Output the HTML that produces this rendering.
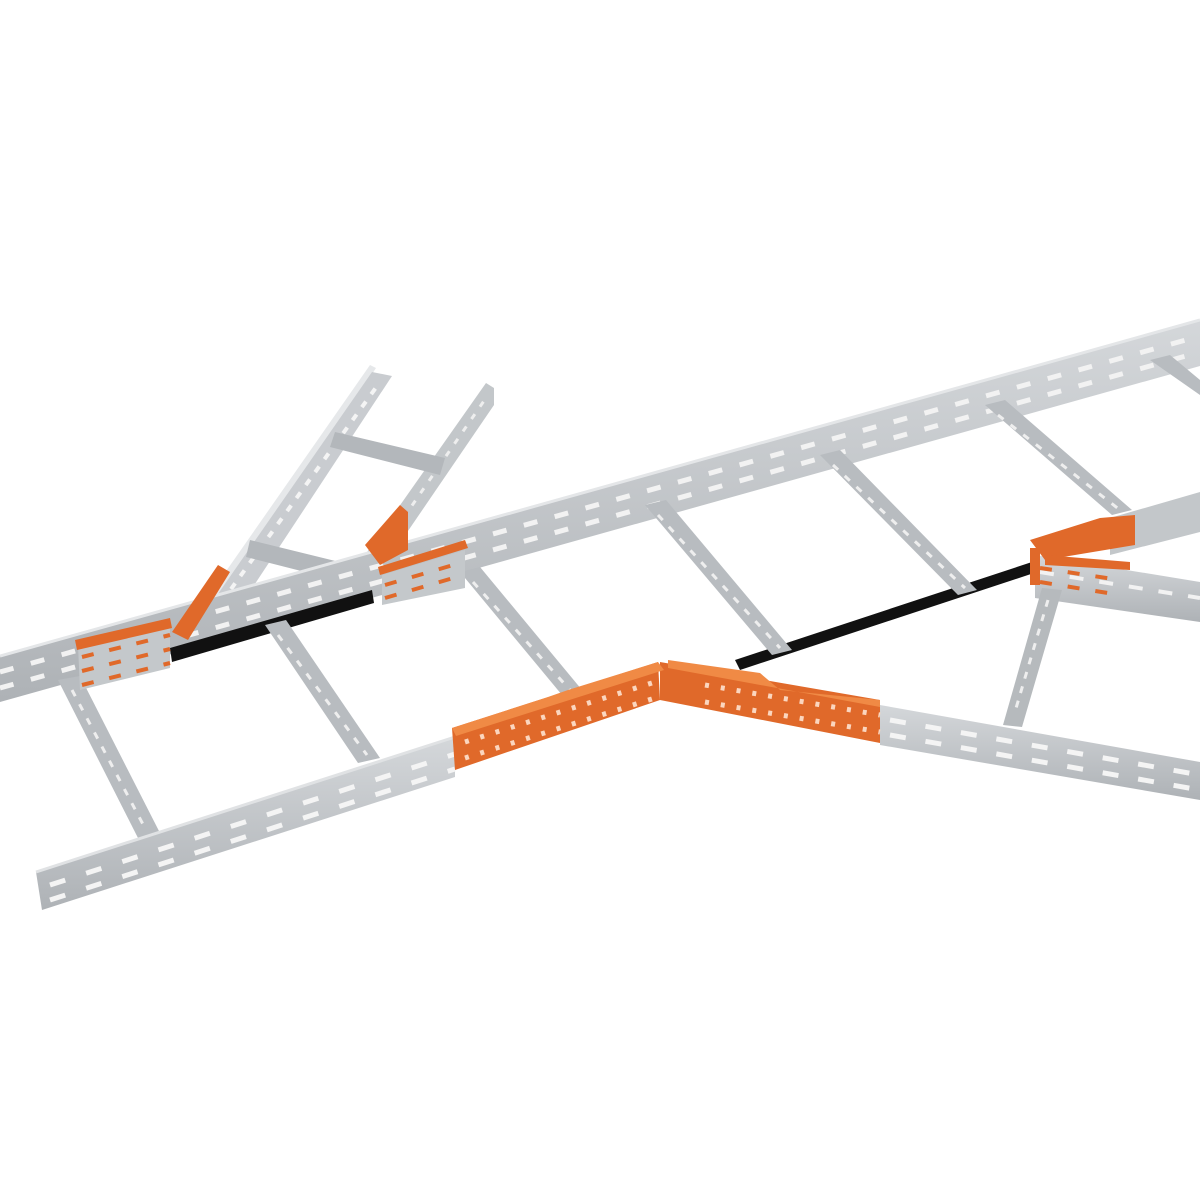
<!DOCTYPE html>
<html><head><style>html,body{margin:0;padding:0;background:#fff}svg{display:block}</style></head>
<body>
<svg width="1200" height="1200" viewBox="0 0 1200 1200" xmlns="http://www.w3.org/2000/svg">
<defs>
<linearGradient id="rg" x1="0" y1="0" x2="0" y2="1"><stop offset="0" stop-color="#d4d7da"/><stop offset="1" stop-color="#aeb2b6"/></linearGradient>
</defs>
<rect width="1200" height="1200" fill="#fff"/>
<!-- branch ladder upper-left -->
<g>
<polygon points="178,640 370,365 376,368 200,640" fill="#e6e8ea"/>
<polygon points="186,640 372,372 392,376 218,640" fill="#c9ccd0"/>
<line x1="203" y1="628" x2="380" y2="382" stroke="#f4f4f4" stroke-width="4" stroke-dasharray="7 9"/>
<polygon points="358,565 486,383 494,388 494,405 380,572" fill="#c3c7ca"/>
<line x1="378" y1="555" x2="488" y2="395" stroke="#eee" stroke-width="3" stroke-dasharray="6 9"/>
<polygon points="335,432 445,458 440,475 330,447" fill="#b3b7bb"/>
<polygon points="250,540 372,570 368,588 246,557" fill="#b3b7bb"/>
</g>
<!-- back rail -->
<polygon points="0,656 1200,320 1200,366 0,702" fill="url(#rg)"/>
<line x1="0" y1="656" x2="1200" y2="320" stroke="#e4e6e8" stroke-width="3"/>
<line x1="0" y1="672" x2="1200" y2="336" stroke="#f2f2f2" stroke-width="5" stroke-dasharray="14 18"/>
<line x1="0" y1="688" x2="1200" y2="352" stroke="#f2f2f2" stroke-width="5" stroke-dasharray="14 18"/>
<!-- black cable -->
<polygon points="170,648 372,590 374,603 172,662" fill="#111"/>
<polygon points="735,660 1032,562 1034,573 740,670" fill="#111"/>
<!-- right branch -->
<polygon points="1110,518 1200,492 1200,532 1110,555" fill="#c3c7ca"/>
<polygon points="1035,555 1200,582 1200,622 1035,598" fill="url(#rg)"/>
<line x1="1040" y1="572" x2="1200" y2="598" stroke="#f2f2f2" stroke-width="4" stroke-dasharray="14 16"/>
<polygon points="1042,588 1062,590 1022,727 1003,725" fill="#b6babd"/>
<line x1="1048" y1="600" x2="1014" y2="715" stroke="#eee" stroke-width="3" stroke-dasharray="7 8"/>
<!-- rungs -->
<g fill="#b8bcc0">
<polygon points="58,680 80,676 160,833 138,838"/>
<polygon points="265,625 286,620 380,758 358,763"/>
<polygon points="460,572 480,567 582,690 562,695"/>
<polygon points="645,505 666,500 792,650 772,655"/>
<polygon points="820,455 840,450 977,590 958,595"/>
<polygon points="985,405 1005,400 1132,510 1112,515"/>
<polygon points="1150,360 1170,355 1200,380 1200,395"/>
</g>
<g stroke="#eee" stroke-width="3" stroke-dasharray="7 9">
<line x1="72" y1="690" x2="146" y2="830"/><line x1="278" y1="635" x2="367" y2="755"/>
<line x1="473" y1="582" x2="570" y2="690"/><line x1="658" y1="515" x2="780" y2="648"/>
<line x1="833" y1="465" x2="965" y2="588"/><line x1="998" y1="415" x2="1120" y2="510"/>
</g>
<!-- front rail -->
<polygon points="36,872 455,737 455,777 42,910" fill="url(#rg)"/>
<line x1="36" y1="872" x2="455" y2="737" stroke="#e0e2e4" stroke-width="3"/>
<line x1="50" y1="885" x2="455" y2="754" stroke="#f4f4f4" stroke-width="5" stroke-dasharray="16 22"/>
<line x1="50" y1="900" x2="455" y2="769" stroke="#f4f4f4" stroke-width="5" stroke-dasharray="16 22"/>
<polygon points="880,705 1200,762 1200,800 880,745" fill="url(#rg)"/>
<line x1="890" y1="720" x2="1200" y2="775" stroke="#f4f4f4" stroke-width="5" stroke-dasharray="16 20"/>
<line x1="890" y1="735" x2="1200" y2="790" stroke="#f4f4f4" stroke-width="5" stroke-dasharray="16 20"/>
<!-- orange front couplers -->
<g fill="#e0692a">
<polygon points="452,728 658,662 660,700 455,770"/>
<polygon points="660,662 880,700 880,743 660,700"/>
</g>
<polygon points="452,728 548,697 568,690 658,662 664,670 456,736" fill="#f08a45"/>
<polygon points="668,660 760,673 780,690 880,700 880,707 668,668" fill="#f08a45"/>
<g stroke="#fbd6bf" stroke-width="5" stroke-dasharray="4 12">
<line x1="465" y1="742" x2="655" y2="682"/><line x1="465" y1="758" x2="655" y2="698"/>
<line x1="705" y1="685" x2="880" y2="715"/><line x1="705" y1="702" x2="880" y2="732"/>
</g>
<!-- orange brackets -->
<polygon points="78,645 170,622 170,668 80,690" fill="#c4c8cb"/>
<g fill="#e0692a">
<polygon points="75,640 170,618 172,628 77,650"/>
<polygon points="172,632 218,565 230,572 188,640"/>
<polygon points="365,545 400,505 408,512 408,550 380,565"/>
<polygon points="378,567 465,540 468,548 380,575"/>
<polygon points="1030,540 1100,518 1135,515 1135,545 1045,560"/>
<polygon points="1030,548 1040,548 1040,585 1030,585"/>
<polygon points="1045,555 1130,562 1130,570 1045,565"/>
</g>
<polygon points="382,575 465,550 465,588 382,605" fill="#c4c8cb"/>
<g stroke="#e0692a" stroke-width="4" stroke-dasharray="12 16">
<line x1="82" y1="657" x2="170" y2="635"/><line x1="82" y1="671" x2="170" y2="649"/><line x1="82" y1="685" x2="170" y2="663"/>
<line x1="385" y1="585" x2="460" y2="563"/><line x1="385" y1="598" x2="460" y2="576"/>
<line x1="1040" y1="568" x2="1120" y2="580"/><line x1="1040" y1="582" x2="1120" y2="595"/>
</g>
</svg>
</body></html>
